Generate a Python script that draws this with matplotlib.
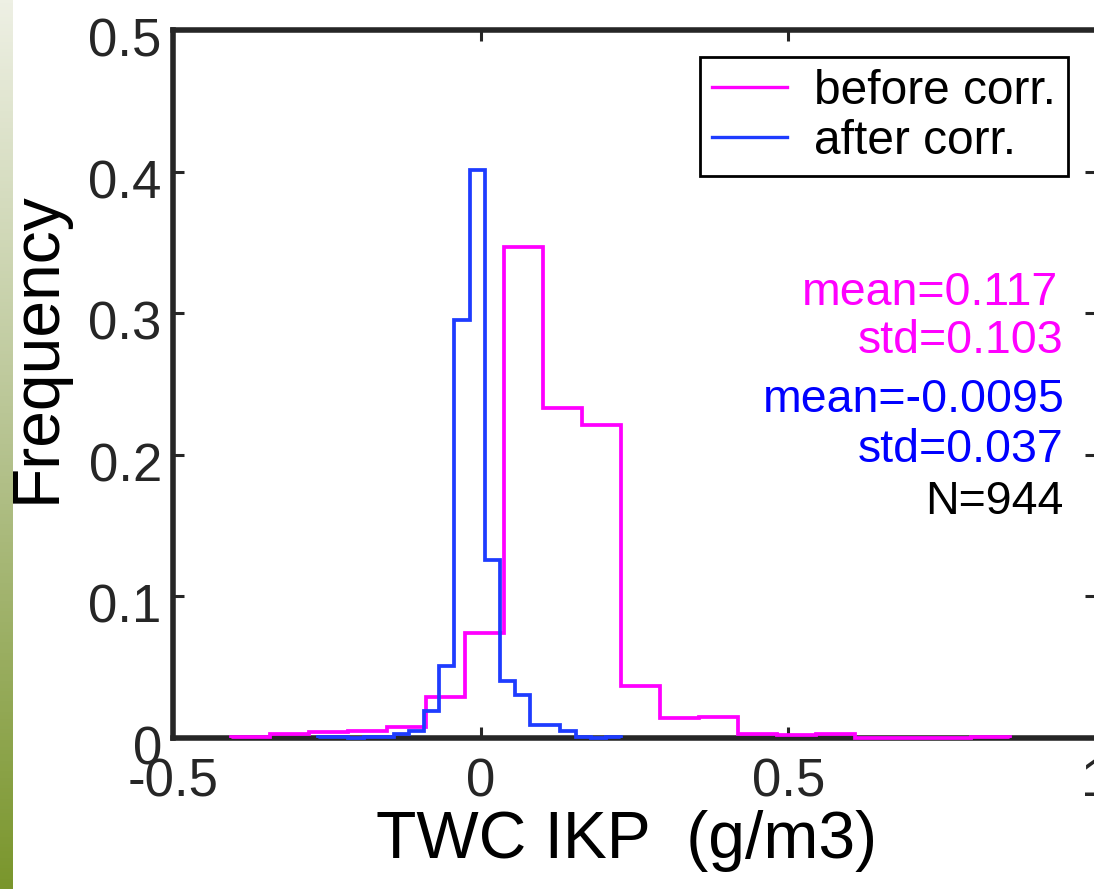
import numpy as np
import matplotlib
matplotlib.use('Agg')
import matplotlib.pyplot as plt
from matplotlib.lines import Line2D
from matplotlib.colors import LinearSegmentedColormap
from matplotlib.transforms import ScaledTranslation

plt.rcParams['font.family'] = ['Liberation Sans', 'DejaVu Sans']
plt.rcParams['axes.unicode_minus'] = False

# histogram of TWC IKP, 20 bins each (frequency = count/N)
before_lo, before_hi = -0.406, 0.861
before_freq = [0.001, 0.003, 0.004, 0.005, 0.008, 0.029, 0.074, 0.347, 0.233, 0.221,
               0.037, 0.014, 0.015, 0.003, 0.002, 0.003, 0.0, 0.0, 0.0, 0.001]
after_lo, after_hi = -0.264, 0.228
after_freq = [0.001, 0.001, 0.0, 0.001, 0.001, 0.003, 0.005, 0.019, 0.051, 0.295,
              0.401, 0.126, 0.040, 0.030, 0.009, 0.009, 0.005, 0.001, 0.0, 0.001]

series_names = ['before corr.', 'after corr.']
series_colors = ['#ff00ff', '#1e3cff']
text_colors = ['#ff00ff', '#0000ff']
stats_before = ['mean=0.117', 'std=0.103']
stats_after = ['mean=-0.0095', 'std=0.037']
n_text = 'N=944'

xticks = [-0.5, 0, 0.5, 1]
xticklabels = ['-0.5', '0', '0.5', '1']
yticks = [0, 0.1, 0.2, 0.3, 0.4, 0.5]
yticklabels = ['0', '0.1', '0.2', '0.3', '0.4', '0.5']

fig = plt.figure(figsize=(10.94, 8.89), dpi=100)

# green strip at the left edge (slide background)
strip = fig.add_axes([0, 0, 13 / 1094, 1])
grad = np.linspace(0, 1, 256).reshape(-1, 1)
cm = LinearSegmentedColormap.from_list('strip', ['#eef0e4', '#b6c390', '#7a962c'])
strip.imshow(grad, aspect='auto', cmap=cm)
strip.axis('off')

ax = fig.add_axes([0.1581, 0.1699, 0.8437, 0.7964])
dark = '#262626'

ax.stairs(before_freq, np.linspace(before_lo, before_hi, len(before_freq) + 1),
          color=series_colors[0], lw=2.7, baseline=0, zorder=3, clip_on=False)
ax.stairs(after_freq, np.linspace(after_lo, after_hi, len(after_freq) + 1),
          color=series_colors[1], lw=2.7, baseline=0, zorder=3, clip_on=False)

ax.set_xlim(-0.5, 1)
ax.set_ylim(0, 0.5)
ax.set_xticks(xticks)
ax.set_xticklabels(xticklabels)
ax.set_yticks(yticks)
ax.set_yticklabels(yticklabels)
ax.tick_params(direction='in', length=8, width=2.2, top=True, right=True,
               labelsize=38, color=dark, labelcolor=dark)
ax.tick_params(axis='x', pad=14)
ax.tick_params(axis='y', pad=8)
# y labels sit a bit below their ticks, as in the original
shift = ScaledTranslation(0, -5 / 72, fig.dpi_scale_trans)
for lab in ax.get_yticklabels():
    lab.set_transform(lab.get_transform() + shift)
for s in ax.spines.values():
    s.set_linewidth(4)
    s.set_color(dark)

ax.set_xlabel('TWC IKP  (g/m3)', fontsize=47.5, color='black')
ax.set_ylabel('Frequency', fontsize=47.5, color='black')
ax.xaxis.set_label_coords(0.491, -0.102)
ax.yaxis.set_label_coords(-0.113, 0.552)

handles = [Line2D([], [], color=c, lw=2.4) for c in series_colors]
leg = ax.legend(handles, series_names, loc='upper right', bbox_to_anchor=(0.970, 0.962),
                borderaxespad=0, fontsize=34.5, handlelength=1.55, handletextpad=0.58,
                borderpad=0.25, labelspacing=0.1, fancybox=False, framealpha=1,
                edgecolor='black')
leg.get_frame().set_linewidth(2)

ax.text(0.938, 0.306, stats_before[0], color=text_colors[0], fontsize=33.5, ha='right', va='baseline')
ax.text(0.947, 0.272, stats_before[1], color=text_colors[0], fontsize=33.5, ha='right', va='baseline')
ax.text(0.950, 0.230, stats_after[0], color=text_colors[1], fontsize=33.5, ha='right', va='baseline')
ax.text(0.947, 0.195, stats_after[1], color=text_colors[1], fontsize=33.5, ha='right', va='baseline')
ax.text(0.948, 0.158, n_text, color='black', fontsize=33.5, ha='right', va='baseline')

fig.savefig('out.png', dpi=100)
